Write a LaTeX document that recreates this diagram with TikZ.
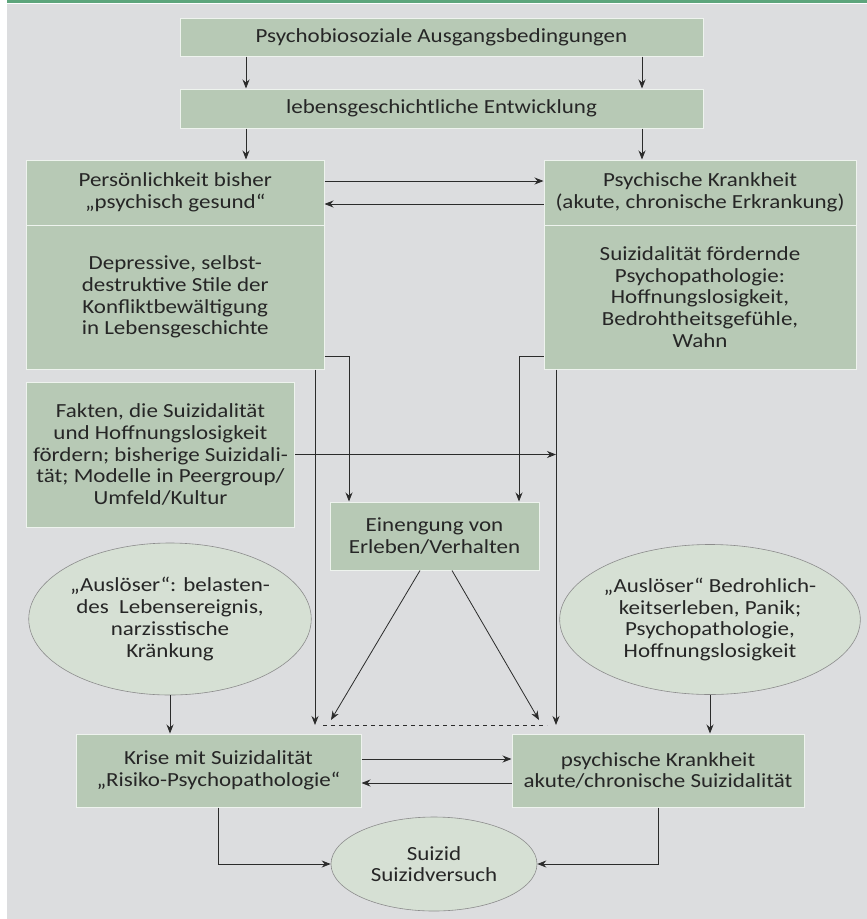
\documentclass[tikz,border=0pt]{standalone}
\usepackage{fontspec}
\setmainfont{Carlito}[FakeStretch=1.15]
\usetikzlibrary{arrows.meta,shapes.geometric,positioning}

\definecolor{bgcol}{HTML}{DCDDDF}
\definecolor{boxcol}{HTML}{B7C9B5}
\definecolor{ellcol}{HTML}{D6E0D4}
\definecolor{topline}{HTML}{5DA57C}
\definecolor{boxline}{HTML}{EEF3EE}
\definecolor{linecol}{HTML}{2B2B2B}

\newcommand{\diagfont}{\fontsize{20}{21.7}\selectfont}

\tikzset{
  box/.style={draw=boxline,line width=1pt,fill=boxcol,align=center,
    inner sep=0pt,font=\diagfont,text=black!85},
  oval/.style={ellipse,draw=black!45,line width=0.6pt,fill=ellcol,
    align=center,inner sep=0pt,font=\diagfont,text=black!85},
  conn/.style={draw=linecol,line width=0.8pt}
}

\begin{document}
\begin{tikzpicture}[x=1pt,y=-1pt,>={Stealth[length=9pt,width=7pt]}]

	\useasboundingbox (0,0) rectangle (867,919);
	\fill[bgcol] (7,4) rectangle (867,919);
	\fill[topline] (7,0) rectangle (867,2.5);

	% upper part
	\node[box,minimum width=523pt,minimum height=38pt] (start) at (441.5,37) {Psychobiosoziale Ausgangsbedingungen};
	\node[box,minimum width=523pt,minimum height=39pt] (devel) at (441.5,108.5) {lebensgeschichtliche Entwicklung};

	\node[box,minimum width=297.5pt,minimum height=65pt] (persUp) at (175.25,192.5) {Persönlichkeit bisher\\„psychisch gesund“};
	\node[box,minimum width=297.5pt,minimum height=144pt] (persLow) at (175.25,297) {Depressive, selbst-\\destruktive Stile der\\Konfliktbewältigung\\in Lebensgeschichte};
	\node[box,minimum width=312pt,minimum height=65pt] (illUp) at (700,192.5) {Psychische Krankheit\\(akute, chronische Erkrankung)};
	\node[box,minimum width=312pt,minimum height=144pt] (illLow) at (700,297) {Suizidalität fördernde\\Psychopathologie:\\Hoffnungslosigkeit,\\Bedrohtheitsgefühle,\\Wahn};

	\node[box,minimum width=268pt,minimum height=145pt] (facts) at (160.5,454.5) {Fakten, die Suizidalität\\und Hoffnungslosigkeit\\fördern; bisherige Suizidali-\\tät; Modelle in Peergroup/\\Umfeld/Kultur};
	\node[box,minimum width=209pt,minimum height=68pt] (narrow) at (434.5,536) {Einengung von\\Erleben/Verhalten};

	% triggers
	\node[oval,minimum width=270pt,minimum height=152pt] (trigL) at (170,619) {„Auslöser“: belasten-\\des\ \ Lebensereignis,\\narzisstische\\Kränkung};
	\node[oval,minimum width=280pt,minimum height=150pt] (trigR) at (710,619.5) {„Auslöser“ Bedrohlich-\\keitserleben, Panik;\\Psychopathologie,\\Hoffnungslosigkeit};

	% lower part
	\node[box,minimum width=285pt,minimum height=73pt] (crisis) at (218.5,770.5) {Krise mit Suizidalität\\„Risiko-Psychopathologie“};
	\node[box,minimum width=292pt,minimum height=73pt] (illness) at (658,770.5) {psychische Krankheit\\akute/chronische Suizidalität};
	\node[oval,minimum width=206pt,minimum height=94pt] (suicide) at (434,864) {Suizid\\Suizidversuch};

	\coordinate (colL) at (246,0);
	\coordinate (colR) at (642,0);
	\coordinate (downL) at (315,725);
	\coordinate (downR) at (556,725);
	\coordinate (narL) at (331,720);
	\coordinate (narR) at (539,720);

	\draw[conn,->] (start.south -| colL) -- (devel.north -| colL);
	\draw[conn,->] (start.south -| colR) -- (devel.north -| colR);
	\draw[conn,->] (devel.south -| colL) -- (persUp.north -| colL);
	\draw[conn,->] (devel.south -| colR) -- (illUp.north -| colR);

	\draw[conn,->] ([yshift=11.5pt]persUp.east) -- ([yshift=11.5pt]illUp.west);
	\draw[conn,->] ([yshift=-11.5pt]illUp.west) -- ([yshift=-11.5pt]persUp.east);

	\draw[conn,->] ([yshift=-59pt]persLow.east) -| ([xshift=-85.5pt]narrow.north);
	\draw[conn,->] ([yshift=-59pt]illLow.west) -| ([xshift=84.5pt]narrow.north);

	\draw[conn,->] (persLow.south -| downL) -- (downL);
	\draw[conn,->] (illLow.south -| downR) -- (downR);
	\draw[conn,dashed,dash pattern=on 4pt off 4pt,shorten <=8pt,shorten >=9pt] (downL) -- (downR);

	\draw[conn,->] (facts.east) -- (facts.east -| downR);

	\draw[conn,->] ([xshift=-14.5pt]narrow.south) -- (narL);
	\draw[conn,->] ([xshift=17.5pt]narrow.south) -- (narR);

	\draw[conn,->] (trigL.south) -- (crisis.north -| trigL.south);
	\draw[conn,->] (trigR.south) -- (illness.north -| trigR.south);

	\draw[conn,->] ([yshift=11.5pt]crisis.east) -- ([yshift=11.5pt]illness.west);
	\draw[conn,->] ([yshift=-12.5pt]illness.west) -- ([yshift=-12.5pt]crisis.east);

	\draw[conn,->] (crisis.south) |- (suicide.west);
	\draw[conn,->] (illness.south) |- (suicide.east);

\end{tikzpicture}
\end{document}
